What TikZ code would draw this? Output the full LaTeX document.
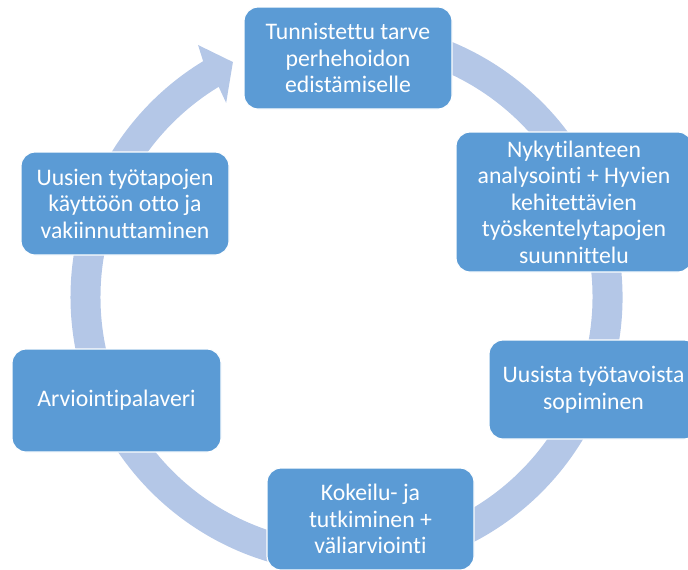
\documentclass[tikz,border=0pt]{standalone}
\usepackage{fontspec}
\setmainfont{Carlito}[RawFeature={-liga;-clig;-dlig}]
\definecolor{boxblue}{HTML}{5B9BD5}
\definecolor{ringblue}{HTML}{B4C7E7}
\begin{document}
\begin{tikzpicture}[x=0.75pt,y=-0.75pt,
  stepbox/.style={draw=white, line width=0.9pt, fill=boxblue, rounded corners=10.5pt,
    text=white, align=center, font=\fontsize{17.8}{19.9}\selectfont, inner sep=0pt}]
\useasboundingbox (0,0) rectangle (688,569);
% cycle ring with arrow head
\begin{scope}[shift={(346.5,297)}, yscale=-1]
\fill[ringblue] (100:276) arc[start angle=100, end angle=-238.7, radius=276]
  -- (-239.5:292.5) -- (-244.2:261) -- (-238.2:228.4) -- (-238.7:246)
  arc[start angle=-238.7, end angle=100, radius=246] -- cycle;
\end{scope}
% steps
\node[stepbox, minimum width=156pt, minimum height=76.5pt] (b1) at (348,58)
  {Tunnistettu tarve\\perhehoidon\\edistämiselle};
\node[stepbox, minimum width=177pt, minimum height=105pt] (b2) at (574,202)
  {Nykytilanteen\\analysointi + Hyvien\\kehitettävien\\työskentelytapojen\\suunnittelu};
\node[stepbox, minimum width=156.75pt, minimum height=74.25pt] (b3) at (593.5,389.5)
  {Uusista työtavoista\\sopiminen};
\node[stepbox, minimum width=155.25pt, minimum height=76.5pt] (b4) at (370.5,519)
  {Kokeilu- ja\\tutkiminen +\\väliarviointi};
\node[stepbox, minimum width=156.75pt, minimum height=77.25pt] (b5) at (116.5,400.5)
  {Arviointipalaveri};
\node[stepbox, minimum width=156pt, minimum height=77.25pt] (b6) at (125,203.5)
  {Uusien työtapojen\\käyttöön otto ja\\vakiinnuttaminen};
\end{tikzpicture}
\end{document}
